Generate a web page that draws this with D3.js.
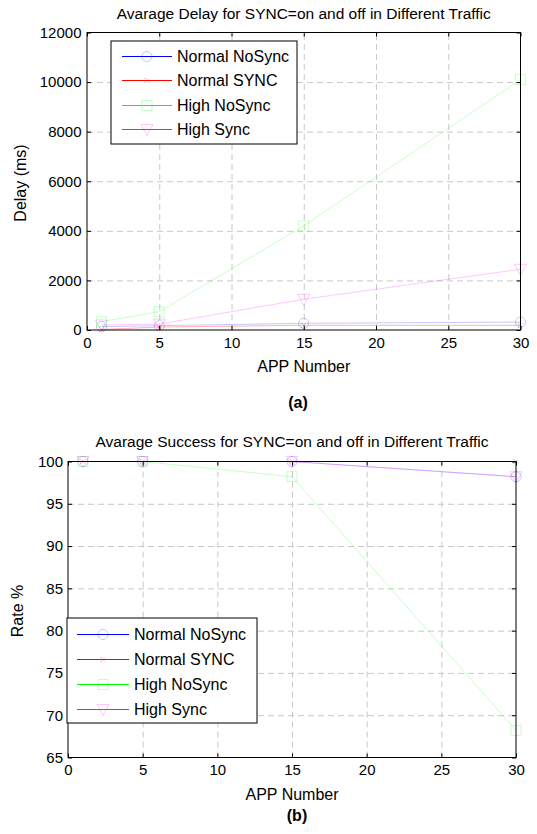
<!DOCTYPE html>
<html>
<head>
<meta charset="utf-8">
<script src="https://cdn.jsdelivr.net/npm/d3@7"></script>
<style>
  body { margin: 0; background: #fff; }
  svg text { font-family: Arial, 'Liberation Sans', sans-serif; fill: #000; }
  .axis path { display: none; }
  .axis line { stroke: #000; }
  .grid line { stroke: #c8c8c8; stroke-dasharray: 6,4; }
  .grid path { display: none; }
</style>
</head>
<body>
<svg id="chart" width="537" height="834"></svg>
<script>
// data
var appNumbers = [1, 5, 15, 30]
var seriesNames = ['Normal NoSync', 'Normal SYNC', 'High NoSync', 'High Sync']

var delayNormalNoSync = [135, 175, 270, 320]
var delayNormalSync = [20, 120, 190, 190]
var delayHighNoSync = [335, 740, 4200, 10100]
var delayHighSync = [200, 240, 1240, 2450]

var successNormalNoSync = [100, 100, 100, 98.2]
var successNormalSync = [100, 100, 100, 100]
var successHighNoSync = [100, 100, 98.2, 68.2]
var successHighSync = [100, 100, 100, 98.2]

var xTicks = [0, 5, 10, 15, 20, 25, 30]
var delayTicks = [0, 2000, 4000, 6000, 8000, 10000, 12000]
var successTicks = [65, 70, 75, 80, 85, 90, 95, 100]

// styling per series (matlab-ish)
var colors = ['#0000ff', '#ff0000', '#00ff00', '#ff00ff']
var markers = ['circle', 'cross', 'square', 'triangle']

var svg = d3.select('#chart')

function markerPath(type) {
  if (type === 'circle') return d3.symbol().type(d3.symbolCircle).size(80)()
  if (type === 'square') return 'M-5,-5H5V5H-5Z'
  if (type === 'triangle') return 'M-6,-5H6L0,6Z'
  return 'M-2.5,-2.5L2.5,2.5M-2.5,2.5L2.5,-2.5'
}

function drawPanel(cfg) {
  var width = cfg.right - cfg.left
  var height = cfg.bottom - cfg.top

  var xPositionScale = d3.scaleLinear().domain([0, 30]).range([0, width])
  var yPositionScale = d3.scaleLinear().domain(cfg.yDomain).range([height, 0])

  var g = svg.append('g')
    .attr('transform', 'translate(' + cfg.left + ',' + cfg.top + ')')

  // grid
  g.append('g')
    .attr('class', 'grid')
    .attr('transform', 'translate(0,' + height + ')')
    .call(d3.axisBottom(xPositionScale).tickValues(xTicks.slice(1, -1)).tickSize(-height).tickFormat(''))
  g.append('g')
    .attr('class', 'grid')
    .call(d3.axisLeft(yPositionScale).tickValues(cfg.yTicks.slice(1, -1)).tickSize(-width).tickFormat(''))

  // lines + markers
  var line = d3.line()
    .x(function(d) { return xPositionScale(d.x) })
    .y(function(d) { return yPositionScale(d.y) })

  cfg.order.forEach(function(i) {
    var pts = appNumbers.map(function(x, j) { return { x: x, y: cfg.series[i][j] } })
    g.append('path')
      .datum(pts)
      .attr('d', line)
      .attr('fill', 'none')
      .attr('stroke', colors[i])
      .attr('stroke-opacity', cfg.lineOpacity[i])
      .attr('stroke-width', 1)

    g.selectAll('.m' + i)
      .data(pts)
      .enter()
      .append('path')
      .attr('class', 'm' + i)
      .attr('d', markerPath(markers[i]))
      .attr('transform', function(d) {
        return 'translate(' + xPositionScale(d.x) + ',' + yPositionScale(d.y) + ')'
      })
      .attr('fill', 'none')
      .attr('stroke', colors[i])
      .attr('stroke-opacity', markers[i] === 'cross' ? 0.6 : 0.22)
      .attr('stroke-dasharray', markers[i] === 'cross' ? '1,1.5' : null)
  })

  // box
  g.append('rect')
    .attr('width', width)
    .attr('height', height)
    .attr('fill', 'none')
    .attr('stroke', '#000')

  // axes, ticks pointing inward
  g.append('g')
    .attr('class', 'axis x-axis')
    .attr('transform', 'translate(0,' + height + ')')
    .call(d3.axisBottom(xPositionScale).tickValues(xTicks).tickSizeInner(-4).tickSizeOuter(0).tickPadding(7))
    .selectAll('text').attr('font-size', '15px')
  g.append('g')
    .attr('class', 'axis')
    .call(d3.axisTop(xPositionScale).tickValues(xTicks).tickSizeInner(-4).tickSizeOuter(0).tickFormat(''))
  g.append('g')
    .attr('class', 'axis y-axis')
    .call(d3.axisLeft(yPositionScale).tickValues(cfg.yTicks).tickFormat(d3.format('d'))
      .tickSizeInner(-4).tickSizeOuter(0).tickPadding(cfg.yPad))
    .selectAll('text').attr('font-size', '15px')
  g.append('g')
    .attr('class', 'axis')
    .attr('transform', 'translate(' + width + ',0)')
    .call(d3.axisRight(yPositionScale).tickValues(cfg.yTicks).tickSizeInner(-4).tickSizeOuter(0).tickFormat(''))

  // titles
  g.append('text')
    .text(cfg.title)
    .attr('x', width / 2)
    .attr('y', cfg.titleY - cfg.top)
    .attr('text-anchor', 'middle')
    .attr('font-size', '15.5px')

  g.append('text')
    .text('APP Number')
    .attr('x', width / 2)
    .attr('y', cfg.xLabelY - cfg.top)
    .attr('text-anchor', 'middle')
    .attr('font-size', '16px')

  svg.append('text')
    .text(cfg.yLabel)
    .attr('transform', 'translate(' + cfg.yLabelX + ',' + cfg.yLabelCy + ') rotate(-90)')
    .attr('text-anchor', 'middle')
    .attr('font-size', '16px')

  svg.append('text')
    .text(cfg.caption)
    .attr('x', cfg.captionX)
    .attr('y', cfg.captionY)
    .attr('text-anchor', 'middle')
    .attr('font-size', '16px')
    .style('font-weight', 'bold')

  // legend
  var lg = cfg.legend
  svg.append('rect')
    .attr('x', lg.x)
    .attr('y', lg.y)
    .attr('width', lg.w)
    .attr('height', lg.h)
    .attr('fill', '#fff')
    .attr('stroke', '#000')

  seriesNames.forEach(function(name, i) {
    var ry = Math.round(lg.rowY + i * lg.rowStep) + 0.5
    svg.append('line')
      .attr('x1', lg.lineX1).attr('x2', lg.lineX2)
      .attr('y1', ry).attr('y2', ry)
      .attr('stroke', colors[i])
      .attr('shape-rendering', 'crispEdges')
    svg.append('path')
      .attr('d', markerPath(markers[i]))
      .attr('transform', 'translate(' + (lg.lineX1 + lg.lineX2) / 2 + ',' + ry + ')')
      .attr('fill', 'none')
      .attr('stroke', colors[i])
      .attr('stroke-opacity', markers[i] === 'cross' ? 0.6 : 0.22)
      .attr('stroke-dasharray', markers[i] === 'cross' ? '1,1.5' : null)
    svg.append('text')
      .text(name)
      .attr('x', lg.textX)
      .attr('y', ry)
      .attr('dy', '0.35em')
      .attr('font-size', '16px')
  })
}

drawPanel({
  left: 87, right: 520.5, top: 32.5, bottom: 330,
  yDomain: [0, 12000], yTicks: delayTicks, yPad: 5.5,
  series: [delayNormalNoSync, delayNormalSync, delayHighNoSync, delayHighSync],
  order: [0, 1, 2, 3],
  lineOpacity: [0.22, 0.3, 0.22, 0.22],
  title: 'Avarage Delay for SYNC=on and off in Different Traffic',
  titleY: 19, xLabelY: 371.5,
  yLabel: 'Delay (ms)', yLabelX: 26, yLabelCy: 183,
  caption: '(a)', captionX: 298, captionY: 408,
  legend: { x: 111, y: 41, w: 186, h: 103, rowY: 56, rowStep: 24.3, lineX1: 122, lineX2: 172, textX: 177 }
})

drawPanel({
  left: 68, right: 516, top: 461.5, bottom: 757.5,
  yDomain: [65, 100], yTicks: successTicks, yPad: 5,
  series: [successNormalNoSync, successNormalSync, successHighNoSync, successHighSync],
  order: [0, 2, 3, 1],
  lineOpacity: [0.22, 1, 0.22, 0.22],
  title: 'Avarage Success for SYNC=on and off in Different Traffic',
  titleY: 447, xLabelY: 800,
  yLabel: 'Rate %', yLabelX: 23, yLabelCy: 611,
  caption: '(b)', captionX: 297, captionY: 821,
  legend: { x: 67, y: 618, w: 190, h: 105, rowY: 633.5, rowStep: 25, lineX1: 77, lineX2: 129, textX: 134 }
})
</script>
</body>
</html>
